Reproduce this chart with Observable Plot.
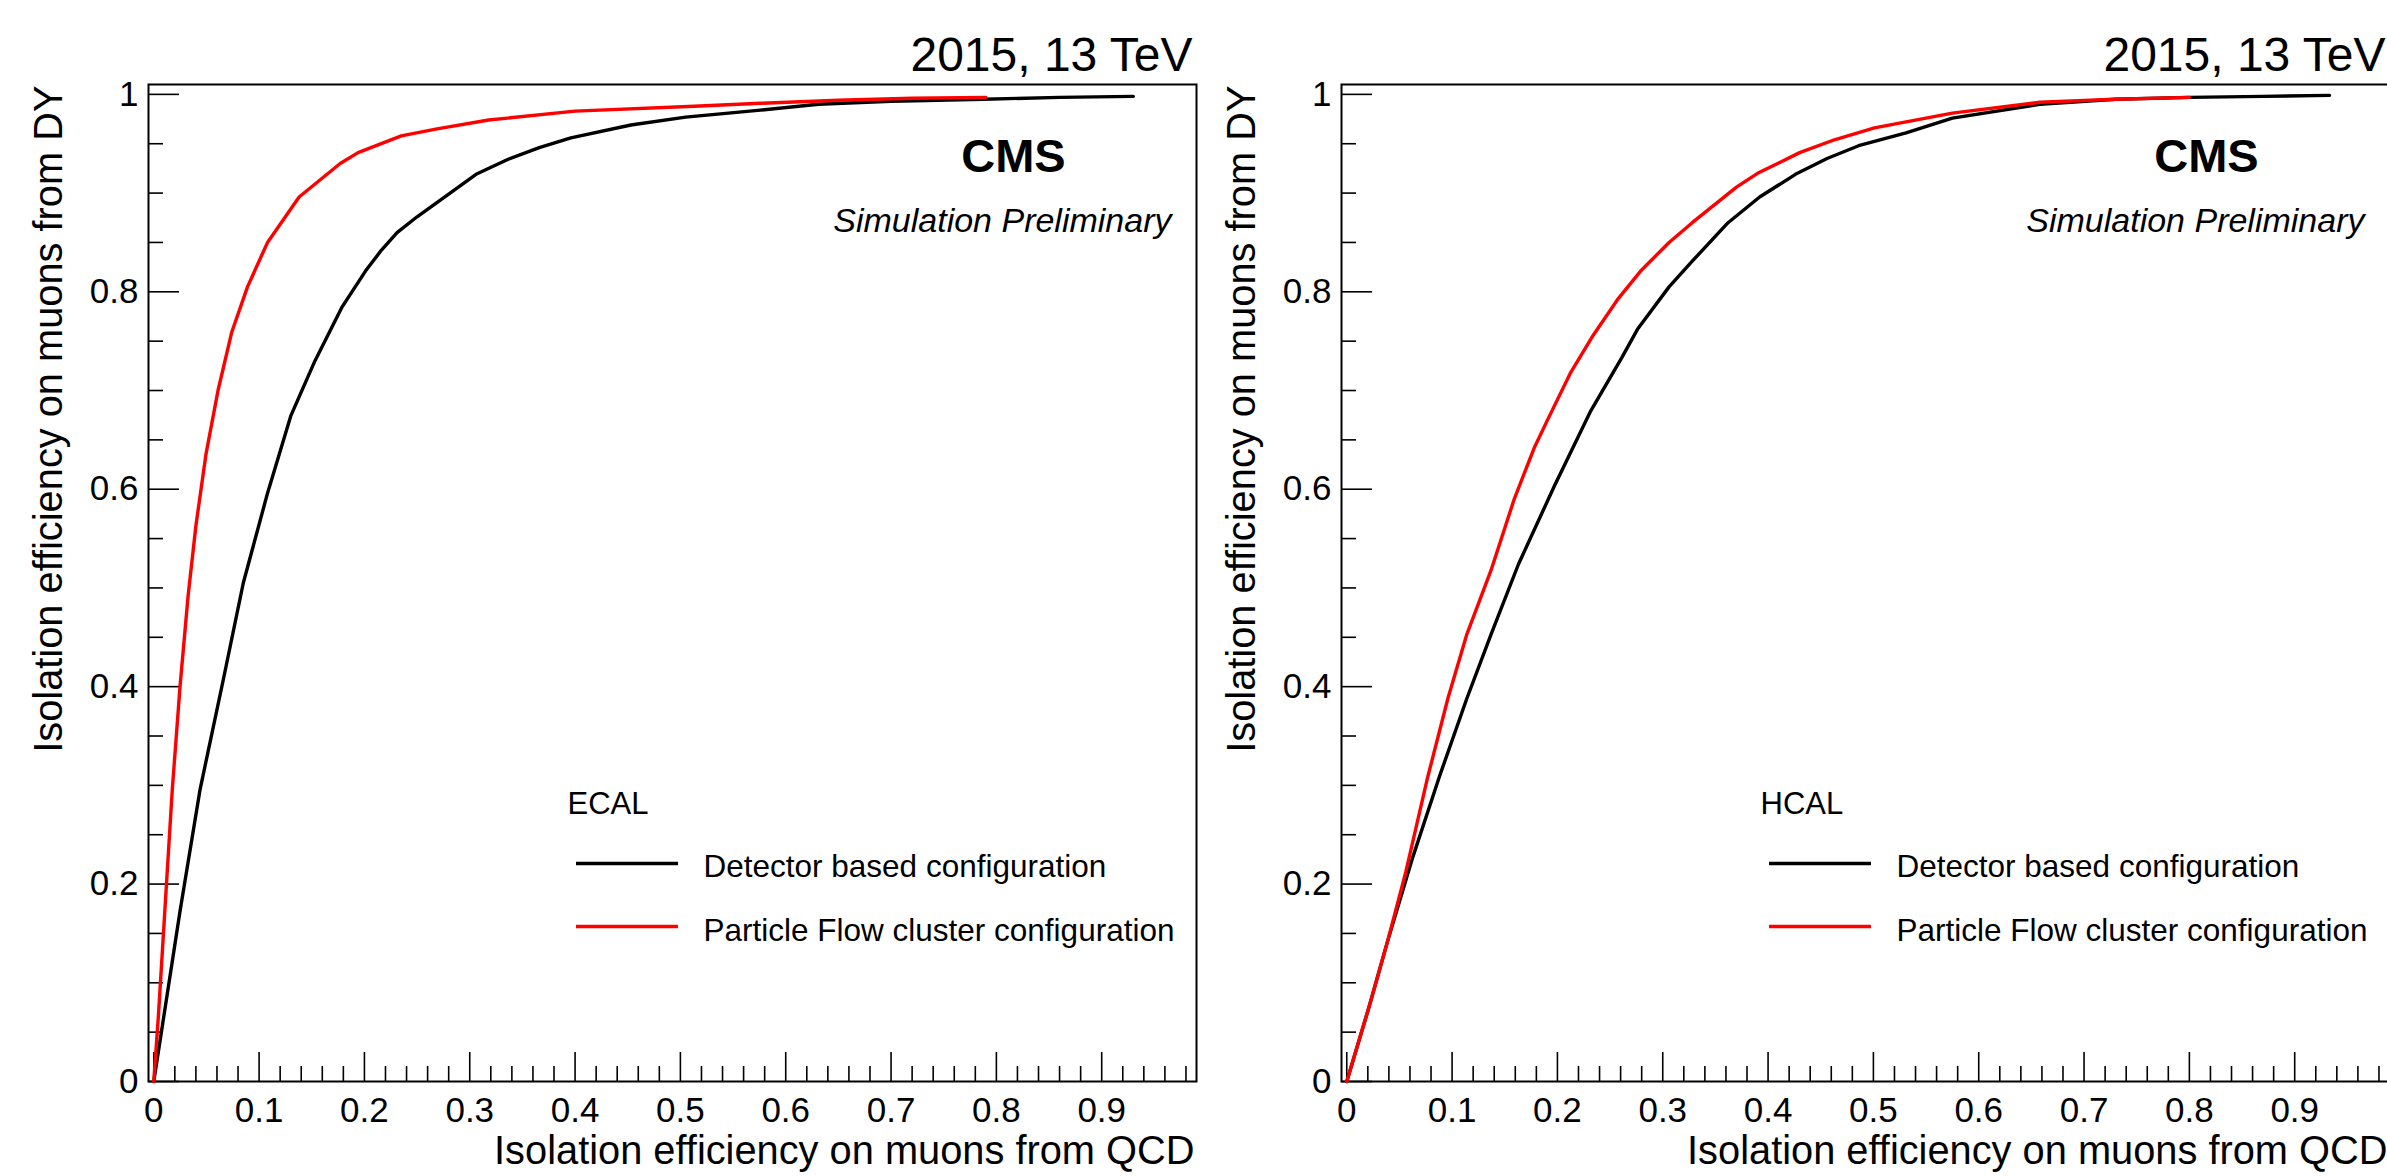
<!DOCTYPE html>
<html>
<head>
<meta charset="utf-8">
<script src="https://cdn.jsdelivr.net/npm/d3@7"></script>
<script src="https://cdn.jsdelivr.net/npm/@observablehq/plot@0.6"></script>
<style>
html, body { margin: 0; padding: 0; background: #fff; overflow: hidden; }
#wrap { position: relative; width: 2387px; height: 1176px; overflow: hidden; background: #fff; }
#wrap > svg { position: absolute; top: 0; }
</style>
</head>
<body>
<div id="wrap"></div>
<script>
// ---------- text ----------
const energyLabel = "2015, 13 TeV";
const expLabel = "CMS";
const subLabel = "Simulation Preliminary";
const xTitle = "Isolation efficiency on muons from QCD";
const yTitle = "Isolation efficiency on muons from DY";
const seriesNames = ["Detector based configuration", "Particle Flow cluster configuration"];
const seriesColors = ["#000000", "#ff0000"];
const panelNames = ["ECAL", "HCAL"];

// ---------- ticks ----------
const xMajorTicks = [0, 0.1, 0.2, 0.3, 0.4, 0.5, 0.6, 0.7, 0.8, 0.9];
const yMajorTicks = [0, 0.2, 0.4, 0.6, 0.8, 1];
const xMinorTicks = d3.range(0, 50).map(i => i * 0.02).filter((d, i) => i % 5 !== 0);
const yMinorTicks = d3.range(0, 21).map(i => i * 0.05).filter((d, i) => i % 4 !== 0);
const xDomain = [-0.005, 0.99];
const yDomain = [0, 1.01];

// ---------- ECAL ----------
const ecalDetX = [0, 0.025, 0.044, 0.066, 0.085, 0.108, 0.130, 0.153, 0.179, 0.201, 0.216, 0.231, 0.250, 0.280, 0.306, 0.336, 0.366, 0.396, 0.453, 0.505, 0.576, 0.631, 0.70, 0.788, 0.86, 0.93];
const ecalDetY = [0, 0.173, 0.296, 0.407, 0.505, 0.596, 0.674, 0.730, 0.785, 0.821, 0.842, 0.860, 0.876, 0.899, 0.919, 0.934, 0.946, 0.956, 0.969, 0.977, 0.984, 0.990, 0.993, 0.995, 0.997, 0.998];
const ecalPfX = [0, 0.0045, 0.012, 0.0176, 0.025, 0.0326, 0.040, 0.0495, 0.061, 0.074, 0.089, 0.108, 0.138, 0.177, 0.194, 0.235, 0.269, 0.318, 0.40, 0.513, 0.576, 0.65, 0.72, 0.79];
const ecalPfY = [0, 0.068, 0.199, 0.296, 0.401, 0.492, 0.563, 0.635, 0.700, 0.759, 0.805, 0.850, 0.896, 0.930, 0.941, 0.958, 0.965, 0.974, 0.983, 0.988, 0.991, 0.994, 0.996, 0.997];

// ---------- HCAL ----------
const hcalDetX = [0, 0.021, 0.039, 0.062, 0.088, 0.114, 0.137, 0.163, 0.197, 0.231, 0.261, 0.276, 0.306, 0.328, 0.362, 0.392, 0.426, 0.456, 0.486, 0.531, 0.575, 0.658, 0.73, 0.80, 0.87, 0.933];
const hcalDetY = [0, 0.075, 0.143, 0.225, 0.309, 0.388, 0.453, 0.524, 0.603, 0.678, 0.733, 0.762, 0.805, 0.831, 0.870, 0.896, 0.919, 0.935, 0.948, 0.961, 0.976, 0.990, 0.995, 0.997, 0.998, 0.999];
const hcalPfX = [0, 0.021, 0.039, 0.056, 0.077, 0.096, 0.114, 0.137, 0.159, 0.178, 0.191, 0.212, 0.234, 0.257, 0.279, 0.306, 0.328, 0.370, 0.390, 0.430, 0.463, 0.501, 0.575, 0.658, 0.73, 0.80];
const hcalPfY = [0, 0.075, 0.143, 0.212, 0.309, 0.388, 0.453, 0.518, 0.590, 0.642, 0.671, 0.717, 0.756, 0.792, 0.821, 0.850, 0.870, 0.906, 0.920, 0.941, 0.954, 0.966, 0.981, 0.992, 0.995, 0.997];

const fmt = d => String(+d.toFixed(1));
const FONT = "'Liberation Sans', Arial, Helvetica, sans-serif";

function panel(name, detX, detY, pfX, pfY) {
  const det = detX.map((x, i) => ({x, y: detY[i]}));
  const pf = pfX.map((x, i) => ({x, y: pfY[i]}));
  const W = 1200, H = 1176, mL = 148, mR = 4, mT = 84, mB = 95;
  const midY = (mT + H - mB) / 2;
  return Plot.plot({
    width: W, height: H,
    marginLeft: mL, marginRight: mR, marginTop: mT, marginBottom: mB,
    style: {fontFamily: FONT, background: "transparent", color: "black", overflow: "visible"},
    x: {domain: xDomain},
    y: {domain: yDomain},
    marks: [
      Plot.frame({stroke: "black", strokeWidth: 2}),
      // ticks (inward)
      Plot.ruleX(xMajorTicks, {x: d => d, y1: 0, y2: 0, insetTop: -29, stroke: "black", strokeWidth: 1.6}),
      Plot.ruleX(xMinorTicks, {x: d => d, y1: 0, y2: 0, insetTop: -15, stroke: "black", strokeWidth: 1.6}),
      Plot.ruleY(yMajorTicks, {y: d => d, x1: xDomain[0], x2: xDomain[0], insetRight: -31, stroke: "black", strokeWidth: 1.6}),
      Plot.ruleY(yMinorTicks, {y: d => d, x1: xDomain[0], x2: xDomain[0], insetRight: -15, stroke: "black", strokeWidth: 1.6}),
      Plot.axisX({ticks: xMajorTicks, tickSize: 0, tickPadding: 16, tickFormat: fmt, fontSize: 35, label: null}),
      Plot.axisY({ticks: yMajorTicks, tickSize: 0, tickPadding: 10, tickFormat: fmt, fontSize: 35, label: null}),
      // curves
      Plot.line(det, {x: "x", y: "y", stroke: seriesColors[0], strokeWidth: 3.4}),
      Plot.line(pf, {x: "x", y: "y", stroke: seriesColors[1], strokeWidth: 3.4}),
      // axis titles
      Plot.text([xTitle], {text: d => d, frameAnchor: "bottom-right", textAnchor: "end", lineAnchor: "bottom", dx: -2, dy: 82, fontSize: 39.8}),
      Plot.text([yTitle], {text: d => d, frameAnchor: "top-left", rotate: -90, textAnchor: "end", lineAnchor: "bottom", dx: -87, dy: 1, fontSize: 39.8}),
      // header texts
      Plot.text([energyLabel], {text: d => d, frameAnchor: "top-right", textAnchor: "end", lineAnchor: "bottom", dx: -4, dy: -14, fontSize: 48}),
      Plot.text([expLabel], {text: d => d, frameAnchor: "top-right", textAnchor: "middle", lineAnchor: "bottom", dx: -183, dy: 87, fontSize: 47, fontWeight: "bold"}),
      Plot.text([subLabel], {text: d => d, frameAnchor: "top-right", textAnchor: "end", lineAnchor: "bottom", dx: -25, dy: 147, fontSize: 34, fontStyle: "italic"}),
      // legend
      Plot.text([name], {text: d => d, frameAnchor: "top-left", textAnchor: "start", lineAnchor: "bottom", dx: 419, dy: 729, fontSize: 31}),
      Plot.ruleY([seriesNames[0]], {y: null, stroke: seriesColors[0], strokeWidth: 3.4, insetLeft: 428, insetRight: 518, dy: 863 - midY}),
      Plot.ruleY([seriesNames[1]], {y: null, stroke: seriesColors[1], strokeWidth: 3.4, insetLeft: 428, insetRight: 518, dy: 926 - midY}),
      Plot.text([seriesNames[0]], {text: d => d, frameAnchor: "top-left", textAnchor: "start", lineAnchor: "bottom", dx: 555, dy: 792, fontSize: 31.5}),
      Plot.text([seriesNames[1]], {text: d => d, frameAnchor: "top-left", textAnchor: "start", lineAnchor: "bottom", dx: 555, dy: 856, fontSize: 31.5})
    ]
  });
}

const wrap = document.getElementById("wrap");
const left = panel(panelNames[0], ecalDetX, ecalDetY, ecalPfX, ecalPfY);
left.style.left = "0px";
wrap.appendChild(left);
const right = panel(panelNames[1], hcalDetX, hcalDetY, hcalPfX, hcalPfY);
right.style.left = "1193px";
wrap.appendChild(right);
</script>
</body>
</html>
